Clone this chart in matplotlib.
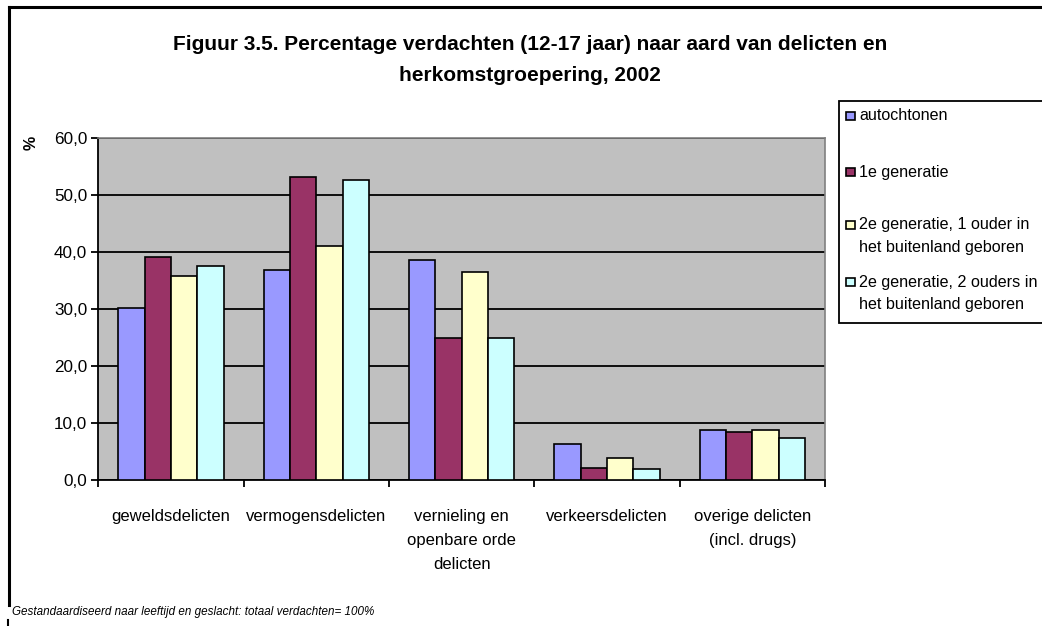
import matplotlib
matplotlib.use("Agg")
import matplotlib.pyplot as plt
from matplotlib.patches import Rectangle
from matplotlib.lines import Line2D
import numpy as np

plt.rcParams['font.family'] = ['Liberation Sans', 'DejaVu Sans']

categories = ["geweldsdelicten", "vermogensdelicten", "vernieling en\nopenbare orde\ndelicten",
              "verkeersdelicten", "overige delicten\n(incl. drugs)"]
series_names = ["autochtonen", "1e generatie", "2e generatie, 1 ouder in\nhet buitenland geboren",
                "2e generatie, 2 ouders in\nhet buitenland geboren"]
autochtonen = [30.2, 36.8, 38.6, 6.3, 8.8]
eerste_gen = [39.0, 53.0, 24.9, 2.1, 8.4]
tweede_gen_1 = [35.8, 41.0, 36.4, 3.8, 8.7]
tweede_gen_2 = [37.5, 52.6, 24.9, 2.0, 7.3]
values = [autochtonen, eerste_gen, tweede_gen_1, tweede_gen_2]
colors = ["#9999FF", "#993366", "#FFFFCC", "#CCFFFF"]
yticks = [0, 10, 20, 30, 40, 50, 60]
title = "Figuur 3.5. Percentage verdachten (12-17 jaar) naar aard van delicten en\nherkomstgroepering, 2002"
footnote = "Gestandaardiseerd naar leeftijd en geslacht: totaal verdachten= 100%"

W, H = 1042, 626
fig = plt.figure(figsize=(W / 100, H / 100), dpi=100)

def fx(x):
    return x / W

def fy(y):
    return 1 - y / H

# plot area
left, right, top, bottom = 98.3, 825, 137.5, 480
ax = fig.add_axes([fx(left), fy(bottom), fx(right - left), (bottom - top) / H])
ax.set_facecolor("#C0C0C0")

n = len(categories)
x = np.arange(n)
bw = 0.181
for i, (vals, c) in enumerate(zip(values, colors)):
    ax.bar(x + (i - 1.5) * bw, vals, width=bw, color=c, edgecolor="black",
           linewidth=1.2, zorder=3)

ax.set_xlim(-0.5, n - 0.5)
ax.set_ylim(0, 60)
ax.set_yticks(yticks)
ax.set_yticklabels([f"{v:.1f}".replace(".", ",") for v in yticks], fontsize=12.3)
ax.yaxis.grid(True, color="black", linewidth=1.3, zorder=1)
ax.set_axisbelow(True)

ax.set_xticks(np.arange(-0.5, n, 1.0))
ax.set_xticklabels([])
ax.set_xticks(x, minor=True)
ax.set_xticklabels(categories, minor=True, fontsize=12, linespacing=1.75, va="top")
ax.tick_params(axis="x", which="minor", length=0, pad=21)
ax.tick_params(axis="x", which="major", direction="out", length=5, width=1.3)
ax.tick_params(axis="y", direction="out", length=5, width=1.3, pad=3)

for s in ["top", "right"]:
    ax.spines[s].set_color("#808080")
    ax.spines[s].set_linewidth(1.2)
for s in ["left", "bottom"]:
    ax.spines[s].set_color("black")
    ax.spines[s].set_linewidth(1.3)

# y label
fig.text(fx(31), fy(143), "%", rotation=90, fontsize=11.5, fontweight="bold",
         ha="center", va="center")

# title
fig.text(fx(530), fy(60), title, fontsize=15, fontweight="bold", ha="center",
         va="center", linespacing=1.75)

# outer frame (left and top lines)
fig.add_artist(Line2D([fx(9), fx(9)], [fy(7), fy(605)], color="black", linewidth=2.2))
fig.add_artist(Line2D([fx(9), fx(W + 5)], [fy(7), fy(7)], color="black", linewidth=2.2))
fig.add_artist(Line2D([fx(8), fx(8)], [fy(620), fy(626)], color="black", linewidth=1.5))

# legend (manual)
lx0, ly0, ly1 = 839, 101, 322.7
fig.add_artist(Rectangle((fx(lx0), fy(ly1)), fx(W + 10 - lx0), (ly1 - ly0) / H,
                         facecolor="white", edgecolor="black", linewidth=1.3))
entry_y = [116, 172, 225, 282]
for name, c, yy in zip(series_names, colors, entry_y):
    fig.add_artist(Rectangle((fx(846), fy(yy + 4.3)), fx(8.5), 8.5 / H,
                             facecolor=c, edgecolor="black", linewidth=1.2))
    for k, ln in enumerate(name.split("\n")):
        fig.text(fx(859), fy(yy + k * 22.5), ln, fontsize=11.6, ha="left", va="center")

# footnote
fig.text(fx(12), fy(612), footnote, fontsize=8.4, style="italic", ha="left", va="center")

fig.savefig("out.png", dpi=100)
